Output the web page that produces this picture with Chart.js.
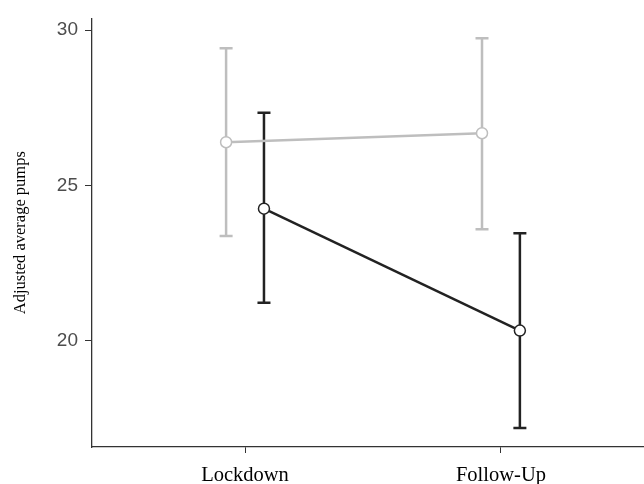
<!DOCTYPE html>
<html lang="en">
<head>
  <meta charset="UTF-8">
  <title>Adjusted average pumps</title>
  <script src="https://cdn.jsdelivr.net/npm/chart.js"></script>
  <style>
    body { margin: 0; background: #fff; }
    #wrap { width: 644px; height: 484px; position: relative; }
  </style>
</head>
<body>
  <div id="wrap"><canvas id="chart"></canvas></div>

  <script>
    // timepoints (x = 1, 2) and per-group estimates with confidence limits
    const timepoints = ['Lockdown', 'Follow-Up'];
    const dodge = 0.074;

    const grayMean  = [26.39, 26.68];
    const grayLow   = [23.37, 23.59];
    const grayHigh  = [29.42, 29.74];

    const blackMean = [24.25, 20.32];
    const blackLow  = [21.22, 17.18];
    const blackHigh = [27.34, 23.46];

    const yTicks = [20, 25, 30];

    const GRAY = '#bebebe';
    const BLACK = '#222222';
    const SERIF = '"Liberation Serif", "DejaVu Serif", serif';

    const toPoints = (means, shift) => means.map((v, i) => ({ x: i + 1 + shift, y: v }));

    // draws the vertical error bars with caps, behind the points
    const errorBars = {
      id: 'errorBars',
      beforeDatasetsDraw(chart) {
        const { ctx, scales: { x, y } } = chart;
        chart.data.datasets.forEach(ds => {
          ds.data.forEach((p, i) => {
            const px = x.getPixelForValue(p.x);
            const top = y.getPixelForValue(ds.high[i]);
            const bot = y.getPixelForValue(ds.low[i]);
            ctx.save();
            ctx.strokeStyle = ds.borderColor;
            ctx.lineWidth = 2.5;
            ctx.beginPath();
            ctx.moveTo(px, top); ctx.lineTo(px, bot);
            ctx.moveTo(px - 6.5, top); ctx.lineTo(px + 6.5, top);
            ctx.moveTo(px - 6.5, bot); ctx.lineTo(px + 6.5, bot);
            ctx.stroke();
            ctx.restore();
          });
        });
      }
    };

    new Chart(document.getElementById('chart'), {
      type: 'line',
      data: {
        datasets: [
          {
            data: toPoints(grayMean, -dodge),
            low: grayLow, high: grayHigh,
            borderColor: GRAY,
            pointBackgroundColor: '#fff',
            pointBorderColor: GRAY,
            borderWidth: 2.5,
            pointRadius: 5.5,
            pointBorderWidth: 1.5
          },
          {
            data: toPoints(blackMean, dodge),
            low: blackLow, high: blackHigh,
            borderColor: BLACK,
            pointBackgroundColor: '#fff',
            pointBorderColor: BLACK,
            borderWidth: 2.5,
            pointRadius: 5.5,
            pointBorderWidth: 1.5
          }
        ]
      },
      options: {
        responsive: true,
        maintainAspectRatio: false,
        animation: false,
        layout: { autoPadding: false, padding: { top: 16, right: 0, left: 0, bottom: 0 } },
        plugins: { legend: { display: false }, tooltip: { enabled: false } },
        scales: {
          x: {
            type: 'linear',
            min: 0.402,
            max: 2.559,
            afterBuildTicks: s => { s.ticks = [{ value: 1 }, { value: 2 }]; },
            afterFit: s => { s.height = 37; },
            grid: { drawOnChartArea: false, drawTicks: true, tickLength: 6, color: '#333' },
            border: { display: true, color: '#333', width: 1.3 },
            ticks: {
              padding: 10,
              color: '#000',
              font: { family: SERIF, size: 20.5 },
              callback: v => timepoints[v - 1]
            }
          },
          y: {
            min: 16.57,
            max: 30.38,
            afterBuildTicks: s => { s.ticks = yTicks.map(v => ({ value: v })); },
            afterFit: s => { s.width = 92; },
            grid: { drawOnChartArea: false, drawTicks: true, tickLength: 7, color: '#333' },
            border: { display: true, color: '#333', width: 1.3 },
            title: {
              display: true,
              text: 'Adjusted average pumps',
              color: '#000',
              padding: { top: 11, bottom: 4 },
              font: { family: SERIF, size: 16.5 }
            },
            ticks: {
              padding: 7,
              color: '#4d4d4d',
              font: { family: '"Liberation Sans", Arial, sans-serif', size: 19 }
            }
          }
        }
      },
      plugins: [errorBars]
    });
  </script>
</body>
</html>
